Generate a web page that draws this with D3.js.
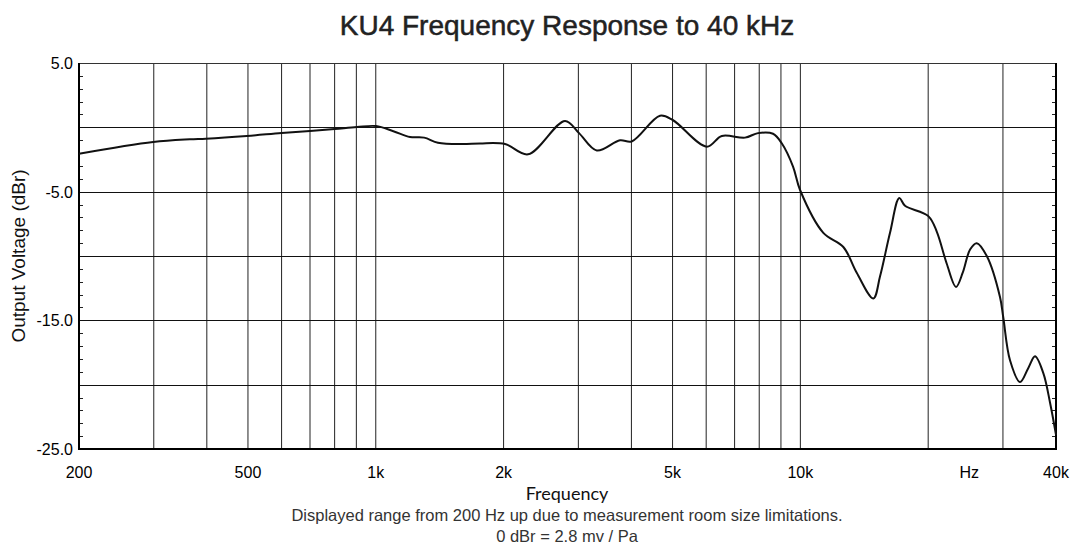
<!DOCTYPE html>
<html lang="en">
    <head>
        <meta charset="utf-8">
        <title>KU4 Frequency Response</title>
        <script type="text/javascript" src="https://cdnjs.cloudflare.com/ajax/libs/d3/7.8.5/d3.min.js"></script>
        <style type="text/css">
            body { margin: 0; background: #fff; }
        </style>
    </head>
    <body>
        <script type="text/javascript">
            var w = 1073;
            var h = 552;

            var freqs = [200, 299, 365, 398, 497, 600, 700, 800, 903, 1001, 1100, 1204, 1300, 1401, 1600, 1760, 2016,
                         2283, 2791, 3011, 3315, 3760, 4006, 4671, 5005, 6020, 6531, 7407, 7948, 8622, 9039, 9610,
                         9983, 11326, 12624, 13574, 14853, 15400, 16260, 17100, 17640, 20014, 20950, 22120, 23260,
                         24120, 25100, 26030, 27480, 29530, 30060, 31170, 32910, 34430, 35700, 37340, 38730, 40000];
            var dbr = [-2.05, -1.14, -0.93, -0.88, -0.67, -0.44, -0.28, -0.13, 0.02, 0.1, -0.3, -0.75, -0.8, -1.2, -1.3, -1.25, -1.3,
                       -2.1, 0.5, -0.45, -1.8, -1.0, -1.1, 0.9, 0.57, -1.5, -0.67, -0.8, -0.45, -0.5, -1.24, -3.05,
                       -4.87, -8.2, -9.3, -11.3, -13.3, -11.6, -8.2, -5.5, -6.1, -6.9, -8.1, -10.6, -12.4,
                       -11.3, -9.5, -9.0, -10.0, -13.2, -14.8, -18.1, -19.8, -18.7, -17.8, -19.1, -21.4, -23.9];

            var gridFreqs = [300, 400, 500, 600, 700, 800, 900, 1000, 2000, 3000, 4000, 5000, 6000, 7000, 8000, 9000, 10000, 20000, 30000];
            var gridDb = [0, -5, -10, -15, -20];
            var xTickVals = [200, 500, 1000, 2000, 5000, 10000, 25000, 40000];
            var xTickText = ["200", "500", "1k", "2k", "5k", "10k", "Hz", "40k"];
            var yTickVals = [5, -5, -15, -25];
            var yTickText = ["5.0", "-5.0", "-15.0", "-25.0"];

            var pl = 79, pr = 1056, pt = 63, pb = 449;

            var x = d3.scaleLog().domain([200, 40000]).range([pl, pr]);
            var y = d3.scaleLinear().domain([5, -25]).range([pt, pb]);

            var svg = d3.select("body")
                        .append("svg")
                        .attr("width", w)
                        .attr("height", h);

            // title
            svg.append("text")
               .attr("x", 567)
               .attr("y", 35)
               .attr("text-anchor", "middle")
               .attr("font-family", "Liberation Sans, Arial, sans-serif")
               .attr("font-size", "28px")
               .attr("fill", "#222")
               .attr("stroke", "#222")
               .attr("stroke-width", 0.5)
               .text("KU4 Frequency Response to 40 kHz");

            // grid
            svg.selectAll("line.vgrid")
               .data(gridFreqs)
               .enter()
               .append("line")
               .attr("class", "vgrid")
               .attr("x1", function(d) { return x(d); })
               .attr("x2", function(d) { return x(d); })
               .attr("y1", pt)
               .attr("y2", pb)
               .attr("stroke", "#222")
               .attr("stroke-width", 1);

            svg.selectAll("line.hgrid")
               .data(gridDb)
               .enter()
               .append("line")
               .attr("class", "hgrid")
               .attr("x1", pl)
               .attr("x2", pr)
               .attr("y1", function(d) { return Math.round(y(d)) + 0.5; })
               .attr("y2", function(d) { return Math.round(y(d)) + 0.5; })
               .attr("stroke", "#111")
               .attr("stroke-width", 1);

            // minor ticks every 1 dB, inside on both sides
            var minor = d3.range(-24, 5, 1).filter(function(d) { return d % 5 !== 0; });
            svg.selectAll("line.ltick")
               .data(minor)
               .enter()
               .append("line")
               .attr("x1", pl)
               .attr("x2", pl + 4)
               .attr("y1", function(d) { return Math.round(y(d)) + 0.5; })
               .attr("y2", function(d) { return Math.round(y(d)) + 0.5; })
               .attr("stroke", "#222");
            svg.selectAll("line.rtick")
               .data(minor)
               .enter()
               .append("line")
               .attr("x1", pr - 4)
               .attr("x2", pr)
               .attr("y1", function(d) { return Math.round(y(d)) + 0.5; })
               .attr("y2", function(d) { return Math.round(y(d)) + 0.5; })
               .attr("stroke", "#222");

            // frame
            svg.append("line").attr("x1", pl).attr("x2", pr).attr("y1", pt + 0.5).attr("y2", pt + 0.5)
               .attr("stroke", "#333").attr("stroke-width", 1);
            svg.append("line").attr("x1", pl).attr("x2", pl).attr("y1", pt).attr("y2", pb + 1)
               .attr("stroke", "#000").attr("stroke-width", 2);
            svg.append("line").attr("x1", pr).attr("x2", pr).attr("y1", pt).attr("y2", pb + 1)
               .attr("stroke", "#000").attr("stroke-width", 2);
            svg.append("line").attr("x1", pl - 1).attr("x2", pr + 1).attr("y1", pb).attr("y2", pb)
               .attr("stroke", "#000").attr("stroke-width", 2);

            // response curve
            var pts = freqs.map(function(f, i) { return [f, dbr[i]]; });
            var line = d3.line()
                         .x(function(d) { return x(d[0]); })
                         .y(function(d) { return y(d[1]); })
                         .curve(d3.curveCatmullRom.alpha(0.5));
            svg.append("path")
               .datum(pts)
               .attr("d", line)
               .attr("fill", "none")
               .attr("stroke", "#111")
               .attr("stroke-width", 2)
               .attr("stroke-linejoin", "round");

            // y labels
            svg.selectAll("text.ylab")
               .data(yTickVals)
               .enter()
               .append("text")
               .attr("class", "ylab")
               .attr("x", pl - 6)
               .attr("y", function(d) { return y(d) + 6; })
               .attr("text-anchor", "end")
               .attr("font-family", "Liberation Sans, Arial, sans-serif")
               .attr("font-size", "16px")
               .attr("fill", "#000")
               .text(function(d, i) { return yTickText[i]; });

            // x labels
            svg.selectAll("text.xlab")
               .data(xTickVals)
               .enter()
               .append("text")
               .attr("class", "xlab")
               .attr("x", function(d) { return x(d); })
               .attr("y", 478)
               .attr("text-anchor", "middle")
               .attr("font-family", "Liberation Sans, Arial, sans-serif")
               .attr("font-size", "16px")
               .attr("fill", "#000")
               .text(function(d, i) { return xTickText[i]; });

            // axis titles
            svg.append("text")
               .attr("x", 567)
               .attr("y", 500)
               .attr("text-anchor", "middle")
               .attr("font-family", "Lato, sans-serif")
               .attr("font-size", "18px")
               .attr("fill", "#111")
               .text("Frequency");

            svg.append("text")
               .attr("transform", "translate(25,256) rotate(-90)")
               .attr("text-anchor", "middle")
               .attr("font-family", "Liberation Sans, Arial, sans-serif")
               .attr("font-size", "19px")
               .attr("fill", "#111")
               .text("Output Voltage (dBr)");

            svg.append("text")
               .attr("x", 567)
               .attr("y", 521)
               .attr("text-anchor", "middle")
               .attr("font-family", "Liberation Sans, Arial, sans-serif")
               .attr("font-size", "16.5px")
               .attr("fill", "#333")
               .text("Displayed range from 200 Hz up due to measurement room size limitations.");

            svg.append("text")
               .attr("x", 567)
               .attr("y", 542)
               .attr("text-anchor", "middle")
               .attr("font-family", "Liberation Sans, Arial, sans-serif")
               .attr("font-size", "16.5px")
               .attr("fill", "#333")
               .text("0 dBr = 2.8 mv / Pa");
        </script>
    </body>
</html>
